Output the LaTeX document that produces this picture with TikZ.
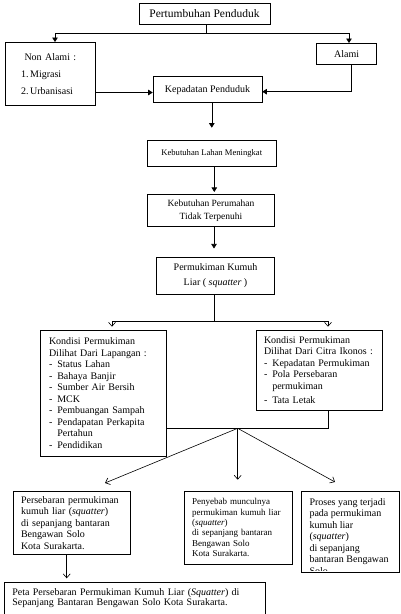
\documentclass[tikz,border=0pt]{standalone}
\usepackage{fontspec}
\setmainfont{Liberation Serif}
\usetikzlibrary{arrows.meta}
\tikzset{
  box/.style={draw,line width=0.6pt,inner sep=0pt,align=center},
  lbox/.style={draw,line width=0.6pt,inner ysep=0pt,inner xsep=8pt,align=left},
  ln/.style={line width=0.6pt},
  arr/.style={line width=0.6pt,-{Triangle[length=4.5pt,width=5.5pt]}},
  oarr/.style={line width=0.6pt,-{Straight Barb[length=4pt,width=7pt]}}
}
\newcommand{\fs}[2]{\fontsize{#1}{#2}\selectfont}
\newcommand{\itm}{\makebox[8.3pt][l]{-}}
\begin{document}
\begin{tikzpicture}[x=1pt,y=-1pt]
  \useasboundingbox (0,0) rectangle (400,614);
  \node[box,minimum width=131pt,minimum height=21pt,font=\fs{11.5}{13}] (pert) at (204.5,13.8) {Pertumbuhan Penduduk};
  \node[lbox,inner xsep=16pt,text width=58pt,minimum height=63pt,font=\fs{10}{17}] (nonalami) at (50,73.8)
    {\hspace*{3.5pt}Non Alami :\\1.\,Migrasi\\2.\,Urbanisasi\par\vspace*{5pt}};
  \node[box,minimum width=60pt,minimum height=21pt,font=\fs{10}{12}] (alami) at (346.7,53.8) {Alami};
  \node[box,minimum width=109pt,minimum height=26pt,font=\fs{10}{12}] (kepadatan) at (207.5,89.7) {Kepadatan Penduduk};
  \node[box,minimum width=128.5pt,minimum height=26pt,font=\fs{8.6}{10}] (lahan) at (211.8,153) {Kebutuhan Lahan Meningkat};
  \node[box,minimum width=126.5pt,minimum height=32.5pt,font=\fs{9.5}{12.7}] (perumahan) at (211,210.5)
    {Kebutuhan Perumahan\\Tidak Terpenuhi};
  \node[box,minimum width=117.5pt,minimum height=36.5pt,font=\fs{10}{15}] (kumuh) at (215.5,276)
    {Permukiman Kumuh\\Liar ( \textit{squatter} )};
  \node[lbox,inner xsep=9pt,text width=108pt,minimum height=126pt,font=\fs{10}{11.5}] (lapangan) at (103,393)
    {Kondisi Permukiman\\Dilihat Dari Lapangan :\\\itm Status Lahan\\\itm Bahaya Banjir\\\itm Sumber Air Bersih\\
     \itm MCK\\\itm Pembuangan Sampah\\\itm Pendapatan Perkapita\\\hspace*{8.3pt}Pertahun\\\itm Pendidikan};
  \node[lbox,text width=110pt,minimum height=80pt,font=\fs{10}{11.5}] (ikonos) at (319,370)
    {Kondisi Permukiman\\Dilihat Dari Citra Ikonos :\\\itm Kepadatan Permukiman\\\itm Pola Persebaran\\
     \hspace*{8.3pt}permukiman\\[2.5pt]\itm Tata Letak};
  \node[lbox,text width=101pt,minimum height=62.5pt,font=\fs{10}{11.5}] (persebaran) at (71.5,523)
    {Persebaran permukiman\\kumuh liar (\textit{squatter})\\di sepanjang bantaran\\Bengawan Solo\\Kota Surakarta.};
  \node[lbox,text width=92.3pt,minimum height=73pt,font=\fs{9}{10.3}] (penyebab) at (238.2,527.5)
    {Penyebab munculnya\\permukiman kumuh liar\\(\textit{squatter})\\di sepanjang bantaran\\Bengawan Solo\\Kota Surakarta.};
  \node[box,minimum width=98.5pt,minimum height=81.7pt] (proses) at (350.25,531.9) {};
  \begin{scope}
    \clip (proses.north west) rectangle ([yshift=2.5pt]proses.south east);
    \node[anchor=north west,align=left,inner sep=0pt,font=\fs{10}{11.5}] (prosestxt) at (309.3,498)
      {Proses yang terjadi\\pada permukiman\\kumuh liar\\(\textit{squatter})\\di sepanjang\\bantaran Bengawan\\Solo};
  \end{scope}
  \node[lbox,anchor=north west,text width=245pt,inner ysep=6pt,font=\fs{10}{10.3}] (peta) at (4,582.3)
    {Peta Persebaran Permukiman Kumuh Liar (\textit{Squatter}) di\\Sepanjang Bantaran Bengawan Solo Kota Surakarta.\par\vspace*{8pt}};
  \coordinate (split) at (206.5,33);
  \coordinate (kin) at ([yshift=-2.8pt]kepadatan.west);
  \coordinate (fork) at (214.5,321);
  \coordinate (join) at (237.7,428.3);
  \coordinate (tipL) at (105,483);
  \coordinate (tipR) at (335,482);
  \draw[ln] (split |- pert.south) -- (split);
  \draw[arr] (split) -| ([xshift=5pt]nonalami.north);
  \draw[arr] (split) -| ([xshift=2.3pt]alami.north);
  \draw[arr] (nonalami.east |- kin) -- (kin);
  \draw[arr] ([xshift=5pt]alami.south) |- ([yshift=-2pt]kepadatan.east);
  \draw[arr,shorten >=12pt] (lahan.north |- kepadatan.south) -- (lahan.north);
  \draw[arr,shorten >=2pt] ([xshift=2.5pt]lahan.south) -- ([xshift=2.5pt]lahan.south |- perumahan.north);
  \draw[arr,shorten >=9pt] ([xshift=3pt]perumahan.south) -- ([xshift=3pt]perumahan.south |- kumuh.north);
  \draw[ln] (fork |- kumuh.south) -- (fork);
  \draw[oarr,shorten >=3pt] (fork) -| ([xshift=9pt]lapangan.north);
  \draw[oarr,shorten >=3pt] (fork) -| ([xshift=9pt]ikonos.north);
  \draw[ln] ([xshift=9pt]ikonos.south) |- (lapangan.east |- join);
  \draw[oarr] (join) -- (tipL);
  \draw[oarr,shorten >=11pt] (join) -- (join |- penyebab.north);
  \draw[oarr] (join) -- (tipR);
  \draw[oarr,shorten >=4pt] ([xshift=-4.8pt]persebaran.south) -- ([xshift=-4.8pt]persebaran.south |- peta.north);
\end{tikzpicture}
\end{document}
